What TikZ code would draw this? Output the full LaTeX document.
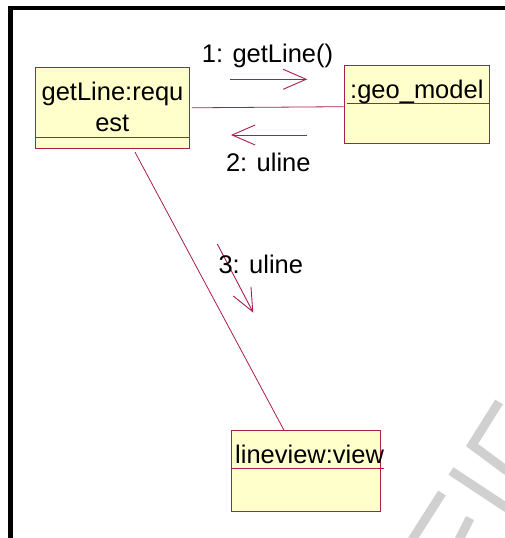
\documentclass[tikz,border=0pt]{standalone}
\usepackage{fontspec}
\setmainfont{Liberation Sans}
\usetikzlibrary{arrows.meta}
\definecolor{umlline}{RGB}{168,30,78}
\definecolor{umlfill}{RGB}{255,255,204}
\definecolor{wmark}{RGB}{208,208,208}
\begin{document}
\begin{tikzpicture}[x=1pt,y=-1pt,
  obj/.style={draw=umlline, fill=umlfill, line width=0.9pt, inner sep=0pt},
  divider/.style={draw=umlline, line width=0.9pt},
  assoc/.style={draw=umlline, line width=0.8pt},
  msg/.style={draw=umlline, line width=0.9pt, -{Straight Barb[length=23pt,width=20pt]}},
  lbl/.style={inner sep=0pt, font=\fontsize{25.5}{31}\selectfont}]
  \useasboundingbox (0,0) rectangle (505,538);

  % faint watermark strokes, bottom right
  \begin{scope}
    \clip (0,0) rectangle (505,538);
    \draw[wmark, line width=9pt] (499,402) -- (472,445) -- (507,471);
    \draw[wmark, line width=9pt] (451,471) -- (507,508);
    \draw[wmark, line width=9pt] (442,493) -- (412,540);
    \draw[wmark, line width=9pt] (470,518) -- (459,540);
  \end{scope}

  % frame
  \fill[black] (8,6) rectangle (505,10);
  \fill[black] (8,6) rectangle (13,538);

  % objects
  \node[obj, minimum width=154pt, minimum height=81pt] (req) at (112,107.8) {};
  \node[obj, minimum width=145pt, minimum height=77.6pt] (geo) at (416.5,104.5) {};
  \node[obj, minimum width=149pt, minimum height=81pt] (view) at (305.5,471.2) {};

  \draw[divider] (req.west |- 0,137.7) -- (req.east |- 0,137.7);
  \draw[divider] (346.7,103.7) -- (geo.east |- 0,103.7);
  \draw[divider] (view.west |- 0,468.7) -- (384,468.7);

  \node[lbl, anchor=base] (reqa) at (112.5,100) {getLine:requ};
  \node[lbl, anchor=base] (reqb) at (112.3,131.7) {est};
  \node[lbl, anchor=base west] (geot) at (350,98.3) {:geo\_model};
  \node[lbl, anchor=base west] (viewt) at (235,463.3) {lineview:view};

  % links
  \draw[assoc] ([xshift=2.5pt]req.east) -- ([yshift=-2.2pt]geo.west);
  \draw[assoc] ([xshift=23pt,yshift=-3.4pt]req.south) -- ([xshift=-21.5pt]view.north);

  % messages
  \coordinate (m1s) at (230,79.3);
  \coordinate (m1e) at (307.3,79.3);
  \coordinate (m2s) at (306.7,135);
  \coordinate (m2e) at (231,135);
  \coordinate (m3s) at (217.3,244);
  \coordinate (m3e) at (253.3,312.7);
  \draw[msg] (m1s) -- (m1e);
  \draw[msg] (m2s) -- (m2e);
  \draw[msg] (m3s) -- (m3e);

  \node[lbl, anchor=base] (l1) at (267.5,62.7) {1: getLine()};
  \node[lbl, anchor=base] (l2) at (268.3,171.7) {2: uline};
  \node[lbl, anchor=base west] (l3) at (218.3,273.3) {3: uline};
\end{tikzpicture}
\end{document}
